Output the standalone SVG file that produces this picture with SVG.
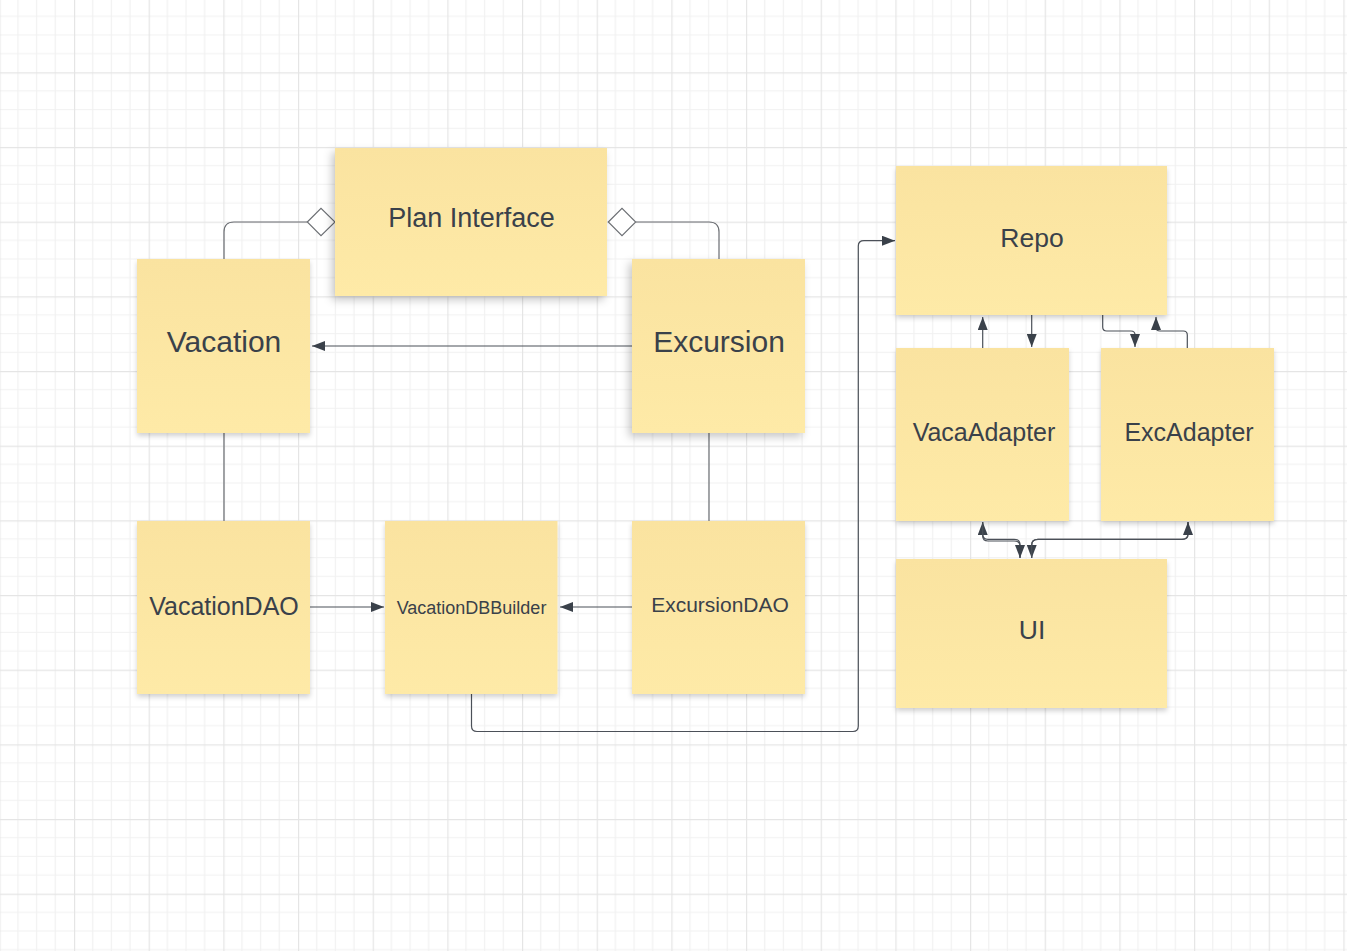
<svg xmlns="http://www.w3.org/2000/svg" width="1347" height="951" viewBox="0 0 1347 951">
<style>
.card{fill:url(#sticky);filter:url(#sh);}
.lift{fill:url(#sticky);filter:url(#sh2);}
.t{font-family:"Liberation Sans",Arial,sans-serif;fill:#3a414a;text-anchor:middle;}
.c{fill:none;stroke:#4b5058;stroke-width:1.2;}
.g{fill:none;stroke:#6a6d72;stroke-width:1.2;}
.dia{fill:#ffffff;stroke:#6a6d72;stroke-width:1.1;}
</style>
<defs>
<pattern id="grid" patternUnits="userSpaceOnUse" x="74" y="72.3" width="74.67" height="74.67">
<path d="M18.67 0V74.67M37.33 0V74.67M56 0V74.67M0 18.67H74.67M0 37.33H74.67M0 56H74.67" stroke="#f1f1f1" stroke-width="1.2" fill="none"/>
<path d="M0.5 0V74.67M0 0.5H74.67" stroke="#e5e5e5" stroke-width="1.4" fill="none"/>
</pattern>
<linearGradient id="sticky" x1="0" y1="0" x2="0" y2="1">
<stop offset="0" stop-color="#fae3a0"/>
<stop offset="1" stop-color="#feeaa7"/>
</linearGradient>
<filter id="sh" x="-20%" y="-20%" width="140%" height="140%">
<feDropShadow dx="0" dy="3" stdDeviation="2.5" flood-color="#000" flood-opacity="0.18"/>
</filter>
<filter id="sh2" x="-20%" y="-20%" width="140%" height="140%">
<feDropShadow dx="-3" dy="4" stdDeviation="4.5" flood-color="#000" flood-opacity="0.22"/>
</filter>
<marker id="ah" viewBox="0 0 13 10" refX="13" refY="5" markerWidth="13" markerHeight="10" markerUnits="userSpaceOnUse" orient="auto">
<path d="M0 0L13 5L0 10Z" fill="#3a414a"/>
</marker>
</defs>
<rect width="1347" height="951" fill="#ffffff"/>
<rect width="1347" height="951" fill="url(#grid)"/>

<g id="connectors">
<path class="g" d="M224 259V232Q224 222 234 222H307"/>
<path class="dia" d="M307.3 222L321 208.3L335 222L321 235.7Z"/>
<path class="g" d="M719 259V232Q719 222 709 222H636"/>
<path class="dia" d="M608.3 222L622 208.3L635.7 222L622 235.7Z"/>
<path class="c" d="M632 346H312" marker-end="url(#ah)"/>
<path class="g" d="M224 433V521"/>
<path class="g" d="M709 433V521"/>
<path class="c" d="M310 607H384" marker-end="url(#ah)"/>
<path class="c" d="M632 607H560" marker-end="url(#ah)"/>
<path class="c" d="M471.5 694V726Q471.5 731.5 477 731.5H853Q858.3 731.5 858.3 726V246Q858.3 240.7 864 240.7H895" marker-end="url(#ah)"/>
<path class="c" d="M982.7 348V317" marker-end="url(#ah)"/>
<path class="c" d="M1031.7 315V347" marker-end="url(#ah)"/>
<path class="c" d="M1102.7 315V327Q1102.7 331 1106.7 331H1131Q1135 331 1135 335V347" marker-end="url(#ah)"/>
<path class="c" d="M1187.3 348V335Q1187.3 331 1183.3 331H1160Q1156 331 1156 327V317" marker-end="url(#ah)"/>
<path class="c" d="M1020 558V545Q1020 539.3 1014 539.3H988Q982.7 539.3 982.7 534V522" marker-end="url(#ah)"/>
<path class="c" d="M982.7 522V536Q982.7 541 988 541H1014Q1020 541 1020 546V558" marker-end="url(#ah)"/>
<path class="c" d="M1188 522V534Q1188 539.3 1182 539.3H1038Q1031.7 539.3 1031.7 545V558" marker-end="url(#ah)"/>
<path class="c" d="M1031.7 558V545Q1031.7 539.3 1038 539.3H1182Q1188 539.3 1188 534V522" marker-end="url(#ah)"/>
</g>

<g id="plan-interface">
<rect class="lift" x="335" y="148" width="272" height="148"/>
<text class="t" x="471.5" y="227" font-size="27">Plan Interface</text>
</g>
<g id="vacation">
<rect class="card" x="137" y="259" width="173" height="174"/>
<text class="t" x="224" y="352" font-size="30">Vacation</text>
</g>
<g id="excursion">
<rect class="lift" x="632" y="259" width="173" height="174"/>
<text class="t" x="719" y="352" font-size="30">Excursion</text>
</g>
<g id="vacationdao">
<rect class="card" x="137" y="521" width="173" height="173"/>
<text class="t" x="224" y="615" font-size="25">VacationDAO</text>
</g>
<g id="vacationdbbuilder">
<rect class="card" x="385" y="521" width="172.5" height="173"/>
<text class="t" x="471.5" y="613.5" font-size="18">VacationDBBuilder</text>
</g>
<g id="excursiondao">
<rect class="card" x="632" y="521" width="173" height="173"/>
<text class="t" x="720" y="611.5" font-size="21">ExcursionDAO</text>
</g>
<g id="repo">
<rect class="card" x="896" y="166" width="271" height="149"/>
<text class="t" x="1032" y="247" font-size="26.5">Repo</text>
</g>
<g id="vacaadapter">
<rect class="card" x="896" y="348" width="173" height="173"/>
<text class="t" x="984" y="440.5" font-size="25">VacaAdapter</text>
</g>
<g id="excadapter">
<rect class="card" x="1101" y="348" width="173" height="173"/>
<text class="t" x="1189" y="440.5" font-size="25">ExcAdapter</text>
</g>
<g id="ui">
<rect class="card" x="896" y="559" width="271" height="149"/>
<text class="t" x="1032" y="639" font-size="26.5">UI</text>
</g>
</svg>
